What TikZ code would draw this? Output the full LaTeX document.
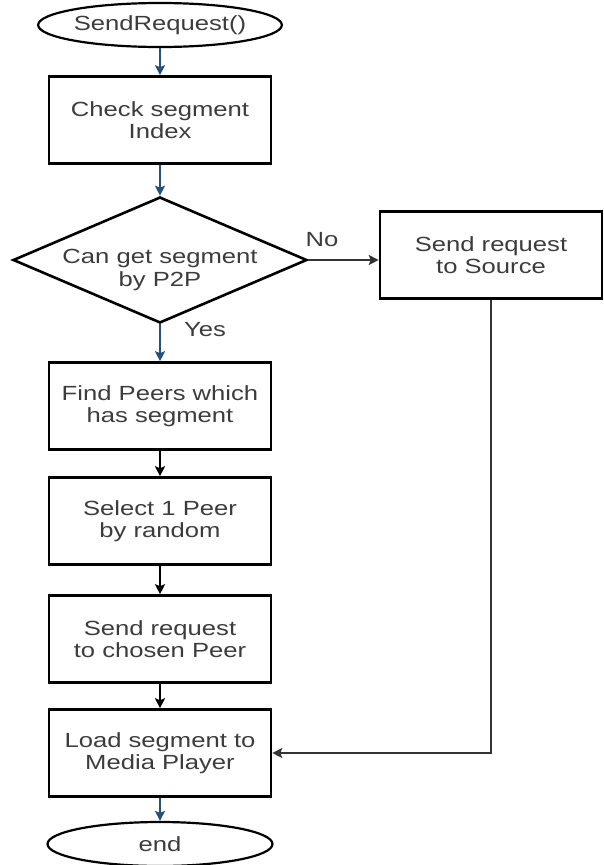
\documentclass[tikz,border=0pt]{standalone}
\usepackage{fontspec}
\setmainfont[FakeStretch=1.25]{Liberation Sans}
\usetikzlibrary{shapes.geometric,arrows.meta}
\definecolor{flowblue}{HTML}{24507A}
\definecolor{labelgray}{HTML}{3C3C3C}
\definecolor{linkgray}{HTML}{333333}
\begin{document}
\begin{tikzpicture}[x=1pt,y=-1pt,
  every node/.style={font=\fontsize{20.5}{22.5}\selectfont, text=labelgray},
  procbox/.style={draw=black, line width=2.6pt, minimum width=222pt,
    minimum height=87pt, inner sep=0pt, align=center},
  terminal/.style={ellipse, draw=black, line width=2.2pt, minimum width=228pt,
    minimum height=44pt, inner sep=0pt},
  decision/.style={diamond, draw=black, line width=2.6pt, aspect=2.33,
    minimum width=294pt, minimum height=126pt, inner sep=0pt},
  tip/.style={-{Stealth[length=10pt,width=10pt,inset=2pt]}},
  blueflow/.style={draw=flowblue, line width=1.6pt, tip},
  blackflow/.style={draw=black, line width=1.6pt, tip},
  grayflow/.style={draw=linkgray, line width=1.4pt, tip},
]
\useasboundingbox (0,0) rectangle (603,865);

% main column
\node[terminal] (start) at (160,25) {SendRequest()};
\node[procbox] (check) at (160,120) {Check segment\\Index};
\node[decision] (dia) at (160,260) {};
\node[align=center] (diatext) at (160,270) {Can get segment\\by P2P};
\node[procbox] (find) at (160,406) {Find Peers which\\has segment};
\node[procbox] (pick) at (160,521) {Select 1 Peer\\by random};
\node[procbox] (chosen) at (160,639) {Send request\\to chosen Peer};
\node[procbox] (load) at (160,753) {Load segment to\\Media Player};
\node[terminal, minimum width=225pt] (stop) at (160,844) {end};

% side branch
\node[procbox] (src) at (491,255) {Send request\\to Source};

% branch labels
\node (nolbl) at (322,240) {No};
\node (yeslbl) at (205,330) {Yes};

% connectors
\draw[blueflow] (start) -- (check);
\draw[blueflow] (check) -- (dia);
\draw[blueflow] (dia) -- (find);
\draw[blackflow] (find) -- (pick);
\draw[blackflow] (pick) -- (chosen);
\draw[blackflow] (chosen) -- (load);
\draw[blueflow] (load) -- (stop);
\draw[grayflow] (dia.east) -- (dia.east -| src.west);
\draw[grayflow] (src.south) |- (load.east);
\end{tikzpicture}
\end{document}
